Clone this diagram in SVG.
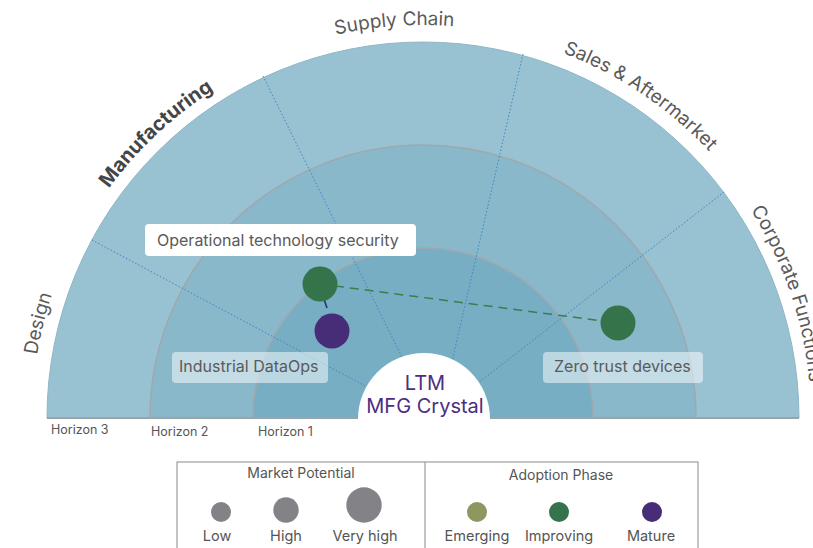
<svg xmlns="http://www.w3.org/2000/svg" width="813" height="548" viewBox="0 0 813 548">
<style>
.region{font-family:Inter,"Liberation Sans",sans-serif;font-size:19px;fill:#5a5a5a}
.bold{font-weight:700;fill:#454545;font-size:20px}
.hz{font-family:Inter,"Liberation Sans",sans-serif;font-size:12.5px;fill:#555}
.lbl{font-family:Inter,"Liberation Sans",sans-serif;font-size:16px;fill:#5a5a5a}
.lg{font-family:Inter,"Liberation Sans",sans-serif;font-size:14.5px;fill:#555;text-anchor:middle}
.lgt{font-family:Inter,"Liberation Sans",sans-serif;font-size:14px;fill:#555;text-anchor:middle}
.div{stroke:#3b86c4;stroke-width:1;stroke-dasharray:1.5 2;fill:none}
.ringline{fill:none;stroke:#9fa8ad;stroke-width:1.5}
.ctr{font-family:Inter,"Liberation Sans",sans-serif;font-size:20px;fill:#4b2e83;text-anchor:middle}
</style>
<defs>
<path id="p391" d="M 32 418 A 391 391 0 0 1 814 418"/>
<path id="p389" d="M 34 418 A 389 389 0 0 1 812 418"/>
<path id="p393" d="M 30 418 A 393 393 0 0 1 816 418"/>
<path id="p388" d="M 35 418 A 388 388 0 0 1 811 418"/>
</defs>
<rect width="813" height="548" fill="#fff"/>
<g id="rings">
<path d="M 47 418 A 376 376 0 0 1 799 418 Z" fill="#98c2d2" stroke="#8fb6c6" stroke-width="1"/>
<path d="M 150 418 A 273 273 0 0 1 696 418 Z" fill="#89b8ca"/>
<path d="M 253 418 A 170 170 0 0 1 593 418 Z" fill="#77aec4"/>
<path class="ringline" d="M 150 418 A 273 273 0 0 1 696 418"/>
<path class="ringline" d="M 253 418 A 170 170 0 0 1 593 418"/>
<line x1="47" y1="418" x2="799" y2="418" stroke="#9aa4a9" stroke-width="2"/>
</g>
<g id="dividers">
<line class="div" x1="92" y1="240" x2="425" y2="418"/>
<line class="div" x1="263" y1="76" x2="432" y2="418"/>
<line class="div" x1="523" y1="54" x2="439" y2="418"/>
<line class="div" x1="724" y1="192" x2="433" y2="418"/>
</g>
<g id="region-labels">
<text class="region"><textPath href="#p391" startOffset="7.7%" text-anchor="middle">Design</textPath></text>
<text class="region bold"><textPath href="#p389" startOffset="26%" text-anchor="middle">Manufacturing</textPath></text>
<text class="region"><textPath href="#p393" startOffset="47.7%" text-anchor="middle">Supply Chain</textPath></text>
<text class="region"><textPath href="#p391" startOffset="68.9%" text-anchor="middle">Sales &amp; Aftermarket</textPath></text>
<text class="region"><textPath href="#p388" startOffset="82%">Corporate Functions</textPath></text>
</g>
<g id="horizons">
<text class="hz" x="51" y="434">Horizon 3</text>
<text class="hz" x="151" y="436">Horizon 2</text>
<text class="hz" x="258" y="436">Horizon 1</text>
</g>
<g id="center">
<circle cx="424" cy="419" r="66" fill="#fff"/>
<text class="ctr" x="425" y="390">LTM</text>
<text class="ctr" x="425" y="413">MFG Crystal</text>
</g>
<g id="connectors">
<line x1="320" y1="284" x2="618" y2="323" stroke="#3b7d4f" stroke-width="1.5" stroke-dasharray="9 6"/>
<line x1="323" y1="296" x2="327" y2="308" stroke="#2a3470" stroke-width="1.6"/>
</g>
<g id="node-ot">
<circle cx="320" cy="284" r="17.5" fill="#35744b"/>
<rect x="145" y="224" width="271" height="32" rx="4" fill="#fff"/>
<text class="lbl" x="157" y="246">Operational technology security</text>
</g>
<g id="node-dataops">
<circle cx="332" cy="331" r="17.5" fill="#472c77"/>
<rect x="172" y="352" width="156" height="31" rx="4" fill="#fff" fill-opacity="0.5"/>
<text class="lbl" x="179" y="372">Industrial DataOps</text>
</g>
<g id="node-zerotrust">
<circle cx="618" cy="323" r="17.5" fill="#35744b"/>
<rect x="543" y="352" width="160" height="31" rx="4" fill="#fff" fill-opacity="0.5"/>
<text class="lbl" x="554" y="372">Zero trust devices</text>
</g>
<g id="legend">
<rect x="177" y="462" width="521" height="100" fill="#fff" stroke="#8a8a8a" stroke-width="1"/>
<line x1="425" y1="462" x2="425" y2="560" stroke="#8a8a8a" stroke-width="1"/>
<text class="lgt" x="301" y="478">Market Potential</text>
<text class="lgt" x="561" y="480">Adoption Phase</text>
<circle cx="221" cy="512" r="10" fill="#838387"/>
<circle cx="286" cy="510" r="12.7" fill="#838387"/>
<circle cx="364" cy="505" r="17.7" fill="#838387"/>
<text class="lg" x="217" y="541">Low</text>
<text class="lg" x="286" y="541">High</text>
<text class="lg" x="365" y="541">Very high</text>
<circle cx="477" cy="512" r="10" fill="#8e975f"/>
<circle cx="559" cy="512" r="10" fill="#35744b"/>
<circle cx="652" cy="512" r="10" fill="#472c77"/>
<text class="lg" x="477" y="541">Emerging</text>
<text class="lg" x="559" y="541">Improving</text>
<text class="lg" x="651" y="541">Mature</text>
</g>
</svg>
